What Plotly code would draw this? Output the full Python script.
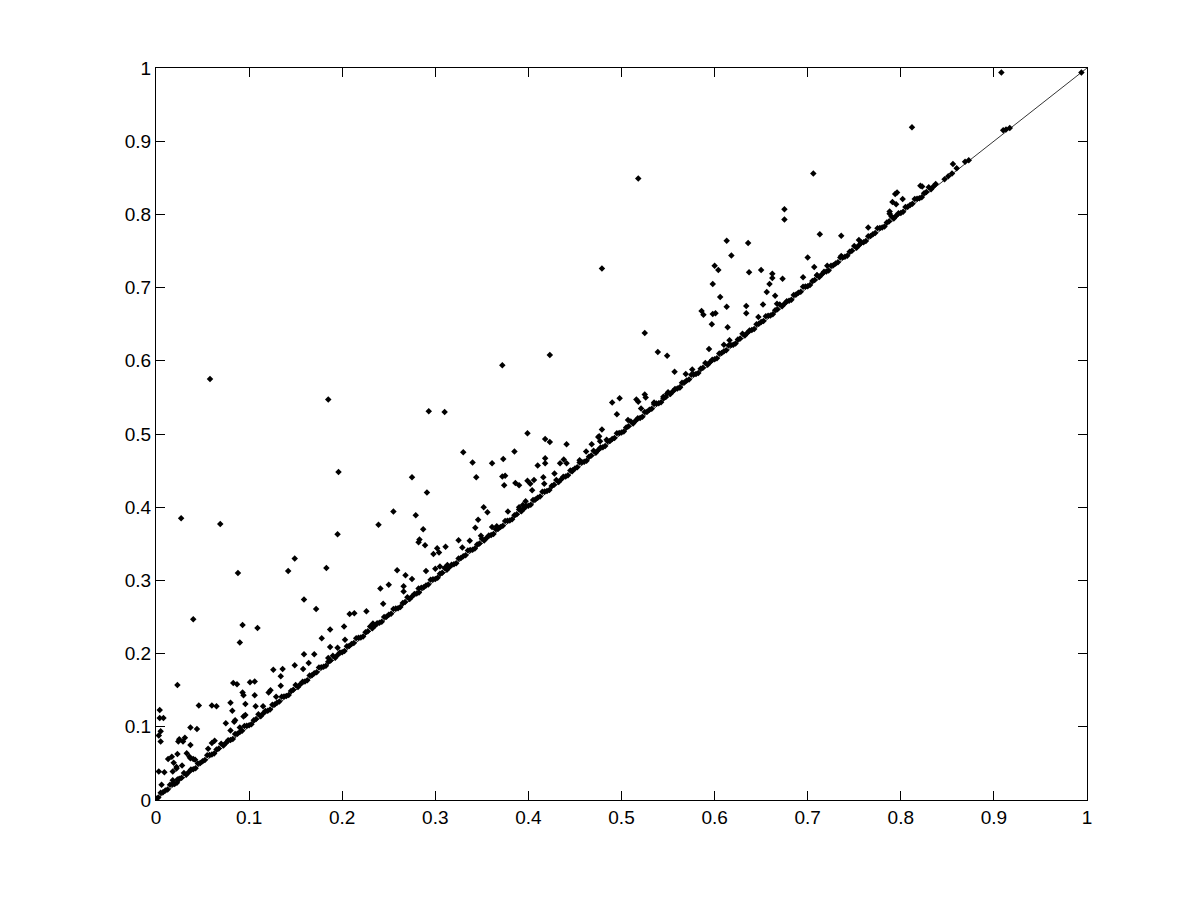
import plotly.graph_objects as go

# Diagonal reference line y = x
diag_x = [0.0, 1.0]
diag_y = [0.0, 1.0]

# Dense band of points lying just above the diagonal
band_x = [
    0.000, 0.005, 0.010, 0.015, 0.020, 0.025, 0.030, 0.035,
    0.040, 0.045, 0.050, 0.055, 0.060, 0.065, 0.070, 0.075,
    0.080, 0.085, 0.090, 0.095, 0.100, 0.105, 0.110, 0.115,
    0.120, 0.125, 0.130, 0.135, 0.140, 0.145, 0.150, 0.155,
    0.160, 0.165, 0.170, 0.175, 0.180, 0.185, 0.190, 0.195,
    0.200, 0.205, 0.210, 0.215, 0.220, 0.225, 0.230, 0.235,
    0.240, 0.245, 0.250, 0.255, 0.260, 0.265, 0.270, 0.275,
    0.280, 0.285, 0.290, 0.295, 0.300, 0.305, 0.310, 0.315,
    0.320, 0.325, 0.330, 0.335, 0.340, 0.345, 0.350, 0.355,
    0.360, 0.365, 0.370, 0.375, 0.380, 0.385, 0.390, 0.395,
    0.400, 0.405, 0.410, 0.415, 0.420, 0.425, 0.430, 0.435,
    0.440, 0.445, 0.450, 0.455, 0.460, 0.465, 0.470, 0.475,
    0.480, 0.485, 0.490, 0.495, 0.500, 0.505, 0.510, 0.515,
    0.520, 0.525, 0.530, 0.535, 0.540, 0.545, 0.550, 0.555,
    0.560, 0.565, 0.570, 0.575, 0.580, 0.585, 0.590, 0.595,
    0.600, 0.605, 0.610, 0.615, 0.620, 0.625, 0.630, 0.635,
    0.640, 0.645, 0.650, 0.655, 0.660, 0.665, 0.670, 0.675,
    0.680, 0.685, 0.690, 0.695, 0.700, 0.705, 0.710, 0.715,
    0.720, 0.725, 0.730, 0.735, 0.740, 0.745, 0.750, 0.755,
    0.760, 0.765, 0.770, 0.775, 0.780, 0.785, 0.790, 0.795,
    0.800, 0.805, 0.810, 0.815, 0.820, 0.825, 0.830, 0.835,
    0.847, 0.851, 0.855, 0.869, 0.873, 0.910, 0.913, 0.917,
]
band_y = [
    0.002, 0.010, 0.013, 0.021, 0.022, 0.029, 0.037, 0.038,
    0.042, 0.050, 0.053, 0.061, 0.062, 0.069, 0.077, 0.078,
    0.082, 0.090, 0.093, 0.101, 0.102, 0.109, 0.117, 0.118,
    0.122, 0.130, 0.133, 0.141, 0.142, 0.149, 0.157, 0.158,
    0.162, 0.170, 0.173, 0.181, 0.182, 0.189, 0.197, 0.198,
    0.202, 0.210, 0.213, 0.221, 0.222, 0.229, 0.237, 0.238,
    0.242, 0.250, 0.253, 0.261, 0.262, 0.269, 0.277, 0.278,
    0.282, 0.290, 0.293, 0.301, 0.302, 0.309, 0.317, 0.318,
    0.322, 0.330, 0.333, 0.341, 0.342, 0.349, 0.357, 0.358,
    0.362, 0.370, 0.373, 0.381, 0.382, 0.389, 0.397, 0.398,
    0.402, 0.410, 0.413, 0.421, 0.422, 0.429, 0.437, 0.438,
    0.442, 0.450, 0.453, 0.461, 0.462, 0.469, 0.477, 0.478,
    0.482, 0.490, 0.493, 0.501, 0.502, 0.509, 0.517, 0.518,
    0.522, 0.530, 0.533, 0.541, 0.542, 0.549, 0.557, 0.558,
    0.562, 0.570, 0.573, 0.581, 0.582, 0.589, 0.597, 0.598,
    0.602, 0.610, 0.613, 0.621, 0.622, 0.629, 0.637, 0.638,
    0.642, 0.650, 0.653, 0.661, 0.662, 0.669, 0.677, 0.678,
    0.682, 0.690, 0.693, 0.701, 0.702, 0.709, 0.717, 0.718,
    0.722, 0.730, 0.733, 0.741, 0.742, 0.749, 0.757, 0.758,
    0.762, 0.770, 0.773, 0.781, 0.782, 0.789, 0.797, 0.798,
    0.802, 0.810, 0.813, 0.821, 0.822, 0.829, 0.837, 0.838,
    0.848, 0.852, 0.856, 0.872, 0.874, 0.915, 0.916, 0.918,
]

# Second row of band points, sitting almost on the diagonal
band2_x = [
    0.0025, 0.0075, 0.0125, 0.0175, 0.0225, 0.0275, 0.0325, 0.0375,
    0.0425, 0.0475, 0.0525, 0.0575, 0.0625, 0.0675, 0.0725, 0.0775,
    0.0825, 0.0875, 0.0925, 0.0975, 0.1025, 0.1075, 0.1125, 0.1175,
    0.1225, 0.1275, 0.1325, 0.1375, 0.1425, 0.1475, 0.1525, 0.1575,
    0.1625, 0.1675, 0.1725, 0.1775, 0.1825, 0.1875, 0.1925, 0.1975,
    0.2025, 0.2075, 0.2125, 0.2175, 0.2225, 0.2275, 0.2325, 0.2375,
    0.2425, 0.2475, 0.2525, 0.2575, 0.2625, 0.2675, 0.2725, 0.2775,
    0.2825, 0.2875, 0.2925, 0.2975, 0.3025, 0.3075, 0.3125, 0.3175,
    0.3225, 0.3275, 0.3325, 0.3375, 0.3425, 0.3475, 0.3525, 0.3575,
    0.3625, 0.3675, 0.3725, 0.3775, 0.3825, 0.3875, 0.3925, 0.3975,
    0.4025, 0.4075, 0.4125, 0.4175, 0.4225, 0.4275, 0.4325, 0.4375,
    0.4425, 0.4475, 0.4525, 0.4575, 0.4625, 0.4675, 0.4725, 0.4775,
    0.4825, 0.4875, 0.4925, 0.4975, 0.5025, 0.5075, 0.5125, 0.5175,
    0.5225, 0.5275, 0.5325, 0.5375, 0.5425, 0.5475, 0.5525, 0.5575,
    0.5625, 0.5675, 0.5725, 0.5775, 0.5825, 0.5875, 0.5925, 0.5975,
    0.6025, 0.6075, 0.6125, 0.6175, 0.6225, 0.6275, 0.6325, 0.6375,
    0.6425, 0.6475, 0.6525, 0.6575, 0.6625, 0.6675, 0.6725, 0.6775,
    0.6825, 0.6875, 0.6925, 0.6975, 0.7025, 0.7075, 0.7125, 0.7175,
    0.7225, 0.7275, 0.7325, 0.7375, 0.7425, 0.7475, 0.7525, 0.7575,
    0.7625, 0.7675, 0.7725, 0.7775, 0.7825, 0.7875, 0.7925, 0.7975,
    0.8025, 0.8075, 0.8125, 0.8175, 0.8225, 0.8275, 0.8325, 0.8375,
]
band2_y = [
    0.0035, 0.0105, 0.0145, 0.0215, 0.0235, 0.0305, 0.0345, 0.0415,
    0.0435, 0.0505, 0.0545, 0.0615, 0.0635, 0.0705, 0.0745, 0.0815,
    0.0835, 0.0905, 0.0945, 0.1015, 0.1035, 0.1105, 0.1145, 0.1215,
    0.1235, 0.1305, 0.1345, 0.1415, 0.1435, 0.1505, 0.1545, 0.1615,
    0.1635, 0.1705, 0.1745, 0.1815, 0.1835, 0.1905, 0.1945, 0.2015,
    0.2035, 0.2105, 0.2145, 0.2215, 0.2235, 0.2305, 0.2345, 0.2415,
    0.2435, 0.2505, 0.2545, 0.2615, 0.2635, 0.2705, 0.2745, 0.2815,
    0.2835, 0.2905, 0.2945, 0.3015, 0.3035, 0.3105, 0.3145, 0.3215,
    0.3235, 0.3305, 0.3345, 0.3415, 0.3435, 0.3505, 0.3545, 0.3615,
    0.3635, 0.3705, 0.3745, 0.3815, 0.3835, 0.3905, 0.3945, 0.4015,
    0.4035, 0.4105, 0.4145, 0.4215, 0.4235, 0.4305, 0.4345, 0.4415,
    0.4435, 0.4505, 0.4545, 0.4615, 0.4635, 0.4705, 0.4745, 0.4815,
    0.4835, 0.4905, 0.4945, 0.5015, 0.5035, 0.5105, 0.5145, 0.5215,
    0.5235, 0.5305, 0.5345, 0.5415, 0.5435, 0.5505, 0.5545, 0.5615,
    0.5635, 0.5705, 0.5745, 0.5815, 0.5835, 0.5905, 0.5945, 0.6015,
    0.6035, 0.6105, 0.6145, 0.6215, 0.6235, 0.6305, 0.6345, 0.6415,
    0.6435, 0.6505, 0.6545, 0.6615, 0.6635, 0.6705, 0.6745, 0.6815,
    0.6835, 0.6905, 0.6945, 0.7015, 0.7035, 0.7105, 0.7145, 0.7215,
    0.7235, 0.7305, 0.7345, 0.7415, 0.7435, 0.7505, 0.7545, 0.7615,
    0.7635, 0.7705, 0.7745, 0.7815, 0.7835, 0.7905, 0.7945, 0.8015,
    0.8035, 0.8105, 0.8145, 0.8215, 0.8235, 0.8305, 0.8345, 0.8415,
]

# Scattered points above the diagonal
out_x = [
    0.058, 0.185, 0.196, 0.027, 0.069, 0.195, 0.088, 0.142, 0.149, 0.183,
    0.241, 0.250, 0.244, 0.040, 0.159, 0.172, 0.093, 0.109, 0.090, 0.178,
    0.187, 0.202, 0.208, 0.213, 0.226, 0.233, 0.203, 0.195, 0.187, 0.159,
    0.170, 0.185, 0.158, 0.164, 0.149, 0.126, 0.136, 0.134, 0.134, 0.123,
    0.121, 0.129, 0.023, 0.083, 0.087, 0.101, 0.106, 0.093, 0.094, 0.106,
    0.096, 0.107, 0.115, 0.080, 0.082, 0.046, 0.060, 0.065, 0.004, 0.004,
    0.008, 0.005, 0.003, 0.005, 0.024, 0.037, 0.044, 0.075, 0.080, 0.085,
    0.094, 0.084, 0.090, 0.096, 0.025, 0.029, 0.031, 0.023, 0.013, 0.017,
    0.037, 0.033, 0.036, 0.042, 0.056, 0.060, 0.063, 0.019, 0.022, 0.028,
    0.018, 0.003, 0.009, 0.006, 0.023, 0.018, 0.022, 0.037, 0.040,
    0.372, 0.423, 0.293, 0.310, 0.275, 0.291, 0.255, 0.239, 0.279, 0.287,
    0.283, 0.282, 0.289, 0.298, 0.302, 0.304, 0.311, 0.325, 0.329, 0.337,
    0.349, 0.343, 0.346, 0.352, 0.356, 0.361, 0.366, 0.330, 0.340, 0.344,
    0.361, 0.373, 0.372, 0.375, 0.374, 0.385, 0.399, 0.418, 0.423, 0.441,
    0.386, 0.390, 0.399, 0.402, 0.404, 0.406, 0.410, 0.416, 0.418, 0.418,
    0.417, 0.428, 0.434, 0.438, 0.441, 0.462, 0.468, 0.476, 0.479, 0.477,
    0.484, 0.455, 0.447, 0.390, 0.394, 0.397, 0.378, 0.259, 0.268, 0.275,
    0.290, 0.300, 0.305, 0.313, 0.266, 0.266, 0.282,
    0.518, 0.706, 0.479, 0.675, 0.675, 0.713, 0.736, 0.765, 0.755, 0.613,
    0.636, 0.618, 0.600, 0.604, 0.598, 0.606, 0.613, 0.637, 0.650, 0.662,
    0.662, 0.659, 0.656, 0.665, 0.673, 0.652, 0.634, 0.634, 0.614, 0.586,
    0.588, 0.598, 0.601, 0.597, 0.700, 0.707, 0.721, 0.695, 0.710, 0.736,
    0.525, 0.539, 0.549, 0.557, 0.569, 0.576, 0.594, 0.490, 0.498, 0.495,
    0.516, 0.518, 0.525, 0.526, 0.507, 0.475, 0.535, 0.545, 0.549, 0.521,
    0.563, 0.610, 0.616, 0.647, 0.667,
    0.908, 0.994, 0.812, 0.794, 0.796, 0.791, 0.795, 0.802, 0.788, 0.788,
    0.821, 0.823, 0.856, 0.860,
]
out_y = [
    0.575, 0.547, 0.448, 0.385, 0.377, 0.363, 0.310, 0.313, 0.330, 0.317,
    0.289, 0.294, 0.268, 0.247, 0.274, 0.261, 0.239, 0.235, 0.215, 0.221,
    0.233, 0.237, 0.254, 0.255, 0.258, 0.241, 0.219, 0.208, 0.209, 0.199,
    0.199, 0.194, 0.179, 0.187, 0.184, 0.178, 0.179, 0.169, 0.156, 0.150,
    0.147, 0.141, 0.157, 0.160, 0.158, 0.161, 0.162, 0.147, 0.143, 0.143,
    0.131, 0.128, 0.128, 0.133, 0.122, 0.129, 0.129, 0.128, 0.123, 0.112,
    0.112, 0.094, 0.088, 0.080, 0.080, 0.099, 0.097, 0.105, 0.095, 0.109,
    0.114, 0.107, 0.099, 0.116, 0.083, 0.080, 0.085, 0.063, 0.056, 0.059,
    0.075, 0.064, 0.059, 0.055, 0.070, 0.078, 0.081, 0.051, 0.045, 0.047,
    0.039, 0.039, 0.038, 0.021, 0.028, 0.027, 0.043, 0.057, 0.056,
    0.594, 0.608, 0.531, 0.530, 0.441, 0.420, 0.394, 0.376, 0.389, 0.370,
    0.356, 0.352, 0.348, 0.336, 0.344, 0.338, 0.346, 0.355, 0.345, 0.354,
    0.361, 0.372, 0.383, 0.400, 0.393, 0.373, 0.374, 0.475, 0.461, 0.441,
    0.460, 0.466, 0.442, 0.443, 0.430, 0.476, 0.501, 0.493, 0.489, 0.486,
    0.433, 0.430, 0.436, 0.432, 0.423, 0.437, 0.457, 0.441, 0.460, 0.467,
    0.432, 0.446, 0.460, 0.465, 0.460, 0.476, 0.486, 0.497, 0.506, 0.490,
    0.492, 0.464, 0.449, 0.400, 0.403, 0.408, 0.394, 0.314, 0.307, 0.302,
    0.313, 0.316, 0.319, 0.321, 0.292, 0.285, 0.289,
    0.849, 0.856, 0.726, 0.807, 0.793, 0.773, 0.771, 0.782, 0.765, 0.764,
    0.761, 0.744, 0.730, 0.724, 0.705, 0.687, 0.674, 0.721, 0.724, 0.719,
    0.713, 0.705, 0.694, 0.689, 0.712, 0.677, 0.675, 0.665, 0.646, 0.668,
    0.663, 0.664, 0.665, 0.650, 0.741, 0.728, 0.730, 0.714, 0.717, 0.743,
    0.638, 0.612, 0.607, 0.585, 0.582, 0.588, 0.616, 0.543, 0.549, 0.527,
    0.547, 0.544, 0.554, 0.550, 0.519, 0.496, 0.543, 0.551, 0.555, 0.535,
    0.564, 0.622, 0.628, 0.660, 0.678,
    0.994, 0.994, 0.919, 0.828, 0.830, 0.817, 0.814, 0.821, 0.804, 0.801,
    0.839, 0.838, 0.869, 0.863,
]

tick_vals = [0, 0.1, 0.2, 0.3, 0.4, 0.5, 0.6, 0.7, 0.8, 0.9, 1]
tick_text = ["0", "0.1", "0.2", "0.3", "0.4", "0.5", "0.6", "0.7", "0.8", "0.9", "1"]

marker_style = dict(symbol="diamond", size=5, color="black", line=dict(width=0))

fig = go.Figure()
fig.add_trace(go.Scatter(x=diag_x, y=diag_y, mode="lines",
                         line=dict(color="black", width=0.8), hoverinfo="skip"))
fig.add_trace(go.Scatter(x=band2_x, y=band2_y, mode="markers", marker=marker_style))
fig.add_trace(go.Scatter(x=band_x, y=band_y, mode="markers", marker=marker_style))
fig.add_trace(go.Scatter(x=out_x, y=out_y, mode="markers", marker=marker_style))

axis_common = dict(
    range=[0, 1], tickvals=tick_vals, ticktext=tick_text,
    showgrid=False, zeroline=False, showline=True, linecolor="black", linewidth=1,
    mirror="ticks", ticks="inside", ticklen=9, tickcolor="black", tickwidth=1,
    tickfont=dict(family="Liberation Sans, Arial, sans-serif", size=19, color="black"),
)

# page body has an 8px margin, so the figure is offset by 8px
fig.update_layout(
    width=1185, height=884,
    margin=dict(l=148, r=106, t=60, b=92, pad=0),
    paper_bgcolor="white", plot_bgcolor="white",
    showlegend=False,
    xaxis=dict(**axis_common),
    yaxis=dict(**axis_common),
)

fig.write_html("out.html")
